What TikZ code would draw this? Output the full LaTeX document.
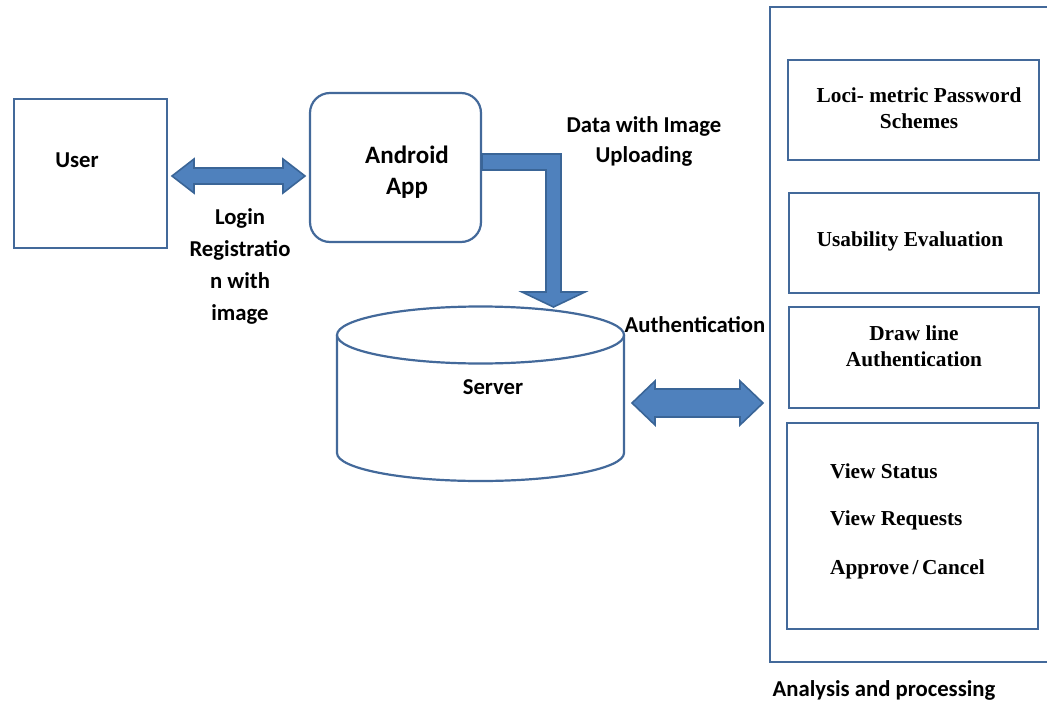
\documentclass[tikz,border=0pt]{standalone}
\usepackage{fontspec}
\setmainfont{Liberation Serif}
\newfontfamily\carlitofont{Carlito}
\usetikzlibrary{calc}
\definecolor{boxline}{HTML}{43699A}
\definecolor{arrfill}{HTML}{4F81BD}
\definecolor{arrline}{HTML}{3A6597}
\tikzset{
  box/.style={draw=boxline, line width=2.2pt},
  fat/.style={fill=arrfill, draw=arrline, line width=1.6pt, line join=miter},
  sans/.style={font=\carlitofont\bfseries\fontsize{22.7}{32}\selectfont, align=center, inner sep=0pt},
  serif/.style={font=\bfseries\fontsize{21.3}{26}\selectfont, align=center, inner sep=0pt},
}
\begin{document}
\begin{tikzpicture}[x=1pt,y=-1pt]
\useasboundingbox (0,0) rectangle (1047,704);
% outer panel
\draw[box] (1050,7) -- (770,7) -- (770,662) -- (1050,662);
% user box
\draw[box] (14,99) rectangle (167,248);
\node[sans] (user) at (77,160) {User};
% android app
\draw[box, rounded corners=20pt] (310,93) rectangle (481,242);
\node[sans, font=\carlitofont\bfseries\fontsize{25}{31}\selectfont] (app) at (407,172) {Android\\App};
% user <-> app
\draw[fat] (172,176) -- (194,159) -- (194,168) -- (283,168) -- (283,159) -- (305,176)
  -- (283,193) -- (283,184) -- (194,184) -- (194,193) -- cycle;
\node[sans] (login) at (240,266) {Login\\Registratio\\n with\\image};
% app -> server bent arrow
\draw[fat] (482,154) -- (561,154) -- (561,292) -- (585,292) -- (553.5,307) -- (522,292)
  -- (546,292) -- (546,170) -- (482,170) -- cycle;
\node[sans, font=\carlitofont\bfseries\fontsize{22.7}{30}\selectfont] (data) at (644,141) {Data with Image\\Uploading};
% server cylinder
\draw[box] (337,335) -- (337,453) arc[start angle=180, end angle=0, x radius=143.5, y radius=28] -- (624,335);
\draw[box, fill=white] (480.5,335) ellipse[x radius=143.5, y radius=28.5];
\node[sans] (server) at (493,387) {Server};
% server <-> panel
\draw[fat] (632,403) -- (655,381) -- (655,389) -- (740,389) -- (740,381) -- (763,403)
  -- (740,425) -- (740,417) -- (655,417) -- (655,425) -- cycle;
\node[sans] (auth) at (695,325) {Authentication};
% inner boxes
\draw[box] (788,60) rectangle (1039,160);
\node[serif] (loci) at (919,108) {Loci- metric Password\\Schemes};
\draw[box] (789,193) rectangle (1039,293);
\node[serif] (usab) at (910,241) {Usability Evaluation};
\draw[box] (789,307) rectangle (1039,408);
\node[serif] (drawl) at (914,346) {Draw line\\Authentication};
\draw[box] (787,423) rectangle (1038,629);
\node[serif, anchor=west] (vs) at (830,471) {View Status};
\node[serif, anchor=west] (vr) at (830,520) {View Requests};
\node[serif, anchor=west] (ac) at (830,569) {Approve\,/\,Cancel};
\node[sans] (anal) at (884,690) {Analysis and processing};
\end{tikzpicture}
\end{document}
